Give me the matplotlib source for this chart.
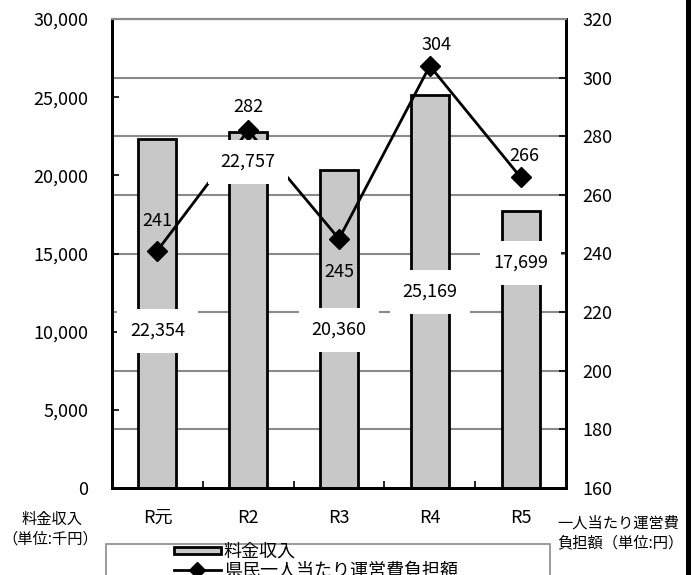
import numpy as np
import matplotlib
matplotlib.use('Agg')
import matplotlib.pyplot as plt
from matplotlib.patches import Rectangle
from matplotlib.lines import Line2D
from matplotlib.legend_handler import HandlerPatch
from matplotlib.ticker import FuncFormatter, MultipleLocator

plt.rcParams['font.family'] = ['Noto Sans CJK JP', 'DejaVu Sans']

years = ['R元', 'R2', 'R3', 'R4', 'R5']
revenue = [22354, 22757, 20360, 25169, 17699]      # 料金収入 (千円)
per_capita = [241, 282, 245, 304, 266]             # 一人当たり運営費負担額 (円)

# where the labels sit (left-axis units / offsets in px)
bar_label_y = [10040, 20850, 10100, 12540, 14400]
line_label_off = [(0, 30), (0, 23), (0, -33), (7, 21), (4, 21)]

W, H = 692, 575
fig = plt.figure(figsize=(W / 100, H / 100), dpi=100)
ax = fig.add_axes([112 / W, 87 / H, 454 / W, 469 / H])
x = np.arange(len(years))

ax.set_xlim(-0.5, 4.5)
ax.set_ylim(0, 30000)
ax.bar(x, revenue, width=0.42, color='#c8c8c8', edgecolor='black', linewidth=2, zorder=2)

ax2 = ax.twinx()
ax2.set_ylim(160, 320)
ax2.yaxis.set_major_locator(MultipleLocator(20))

# grid follows the right axis
for v in range(180, 321, 20):
    ax.axhline((v - 160) / 160 * 30000, color='#8a8a8a', lw=1.5, zorder=1)

ax2.plot(x, per_capita, color='black', lw=2, marker='D', ms=10, zorder=3)

for i, v in enumerate(per_capita):
    dx, dy = line_label_off[i]
    ax2.annotate(str(v), (i, v), xytext=(dx * 0.72, dy * 0.72), textcoords='offset points',
                 ha='center', va='center', fontsize=13, zorder=4)

for i, v in enumerate(revenue):
    ax2.text(i, bar_label_y[i], f'{v:,}', transform=ax.transData, ha='center', va='center',
             fontsize=13, zorder=5,
             bbox=dict(boxstyle='square,pad=0.7', facecolor='white', edgecolor='none'))

ax.yaxis.set_major_locator(MultipleLocator(5000))
ax.yaxis.set_major_formatter(FuncFormatter(lambda v, p: f'{int(v):,}'))
ax.tick_params(axis='y', direction='in', length=5, width=1.2, labelsize=13, pad=17)
ax2.tick_params(axis='y', direction='in', length=5, width=1.2, labelsize=13, pad=12)
ax.set_xticks(x)
ax.set_xticklabels(years)
ax.set_xticks(np.arange(0.5, 4.5, 1), minor=True)
ax.tick_params(axis='x', which='major', length=0, labelsize=13, pad=15)
ax.tick_params(axis='x', which='minor', direction='in', length=5, width=1.2)

for a in (ax, ax2):
    for s in ('left', 'right', 'bottom'):
        a.spines[s].set_color('black')
        a.spines[s].set_linewidth(2)
    a.spines['top'].set_color('#8a8a8a')
    a.spines['top'].set_linewidth(1.5)

fig.text(52 / W, 1 - 519 / H, '料金収入', ha='center', va='center', fontsize=11)
fig.text(50 / W, 1 - 539 / H, '（単位:千円）', ha='center', va='center', fontsize=11)
fig.text(557 / W, 1 - 523 / H, '一人当たり運営費', ha='left', va='center', fontsize=11)
fig.text(557 / W, 1 - 543 / H, '負担額（単位:円）', ha='left', va='center', fontsize=11)

# legend box, cut off by the bottom edge like the original
fig.add_artist(Rectangle((106 / W, -0.1), (550 - 106) / W, 0.1 + (575 - 544) / H,
                         transform=fig.transFigure, fill=False, edgecolor='#8a8a8a', lw=1.2))


def thin_rect(legend, orig_handle, xdescent, ydescent, width, height, fontsize):
    return Rectangle((-xdescent, -ydescent + height * 0.2), width, height * 0.6)


bar_h = Rectangle((0, 0), 1, 1, facecolor='#c8c8c8', edgecolor='black', lw=2)
line_h = Line2D([], [], color='black', lw=2, marker='D', ms=8)
fig.legend([bar_h, line_h], ['料金収入', '県民一人当たり運営費負担額'],
           loc='upper left', bbox_to_anchor=(174 / W, 1 - 543 / H), frameon=False,
           borderpad=0, borderaxespad=0, fontsize=13, handlelength=2.6,
           handletextpad=0.15, labelspacing=0.05,
           handler_map={Rectangle: HandlerPatch(patch_func=thin_rect)})

# heavy border on the right edge
fig.add_artist(Line2D([687.5 / W] * 2, [0, 1], color='black', lw=3.6, transform=fig.transFigure))

fig.savefig('out.png', dpi=100)
